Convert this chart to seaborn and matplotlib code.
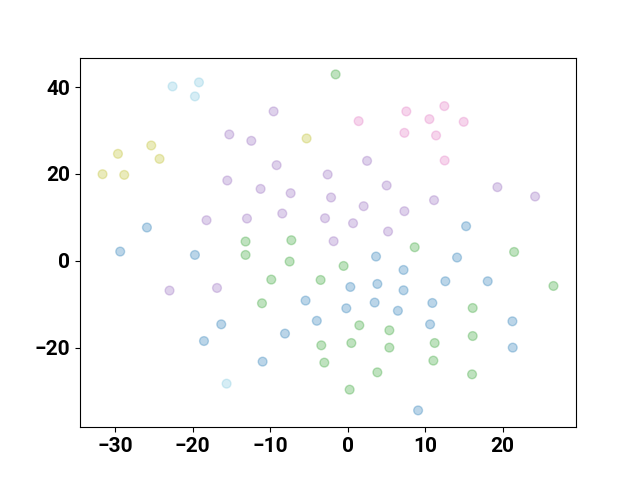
import pandas as pd
import matplotlib
matplotlib.use("Agg")
import matplotlib.pyplot as plt
import seaborn as sns

plt.rcParams['font.family'] = ['Roboto', 'DejaVu Sans']
plt.rcParams['font.weight'] = 'bold'
plt.rcParams['font.size'] = 15

# point coordinates, one group per colour
blue_x = [-29.37, -25.92, -19.72, -16.32, -18.55, -10.98, -8.09, -5.43, -3.98, -0.17, 0.35, 3.49, 3.67,
          3.84, 6.49, 7.22, 7.22, 10.65, 10.94, 12.62, 14.13, 15.30, 18.09, 21.28, 21.32, 9.10]
blue_y = [2.12, 7.66, 1.34, -14.65, -18.50, -23.25, -16.79, -9.18, -13.84, -10.96, -6.04, -9.64, 0.97,
          -5.35, -11.53, -2.12, -6.81, -14.65, -9.73, -4.73, 0.74, 7.96, -4.73, -13.96, -20.02, -34.49]

green_x = [-1.55, -13.18, -13.18, -7.27, -7.49, -0.52, -9.86, -3.49, -11.06, 1.51, 5.39, 8.66, 21.50,
           26.58, 16.15, -3.40, -3.01, 0.48, 5.39, 11.24, 16.15, 3.84, 11.07, 16.07, 0.26]
green_y = [42.95, 4.43, 1.34, 4.73, -0.18, -1.20, -4.34, -4.43, -9.80, -14.88, -16.03, 3.11, 2.03,
           -5.81, -10.89, -19.49, -23.48, -18.96, -20.02, -18.96, -17.35, -25.72, -23.02, -26.18, -29.71]

purple_x = [-15.28, -12.44, -9.56, -9.17, -15.54, -11.24, -7.36, -2.58, -2.14, 2.51, 5.04, 2.07, 19.34,
            24.21, 11.16, 7.33, -18.22, -13.00, -8.44, -2.92, 0.70, 5.22, -1.81, -23.00, -16.87]
purple_y = [29.11, 27.64, 34.42, 22.03, 18.50, 16.56, 15.57, 19.88, 14.58, 23.02, 17.35, 12.57, 16.96,
            14.81, 13.96, 11.42, 9.34, 9.73, 10.89, 9.80, 8.65, 6.74, 4.50, -6.87, -6.27]

pink_x = [1.42, 7.58, 7.33, 12.49, 10.56, 14.99, 11.42, 12.53]
pink_y = [32.18, 34.42, 29.48, 35.64, 32.64, 32.02, 28.88, 23.11]

olive_x = [-31.65, -28.85, -29.66, -25.36, -24.29, -5.30]
olive_y = [19.95, 19.79, 24.64, 26.57, 23.48, 28.19]

cyan_x = [-22.61, -19.20, -19.72, -15.63]
cyan_y = [40.18, 41.11, 37.88, -28.33]

groups = {
    'tab:blue': (blue_x, blue_y),
    'tab:green': (green_x, green_y),
    'tab:purple': (purple_x, purple_y),
    'tab:pink': (pink_x, pink_y),
    'tab:olive': (olive_x, olive_y),
    '#7ac6de': (cyan_x, cyan_y),
}

rows = []
for colour, (xs, ys) in groups.items():
    for x, y in zip(xs, ys):
        rows.append({'x': x, 'y': y, 'group': colour})
df = pd.DataFrame(rows)

fig, ax = plt.subplots(figsize=(6.4, 4.8), dpi=100)
sns.scatterplot(data=df, x='x', y='y', hue='group', palette={c: c for c in groups},
                alpha=0.3, s=40, edgecolor='face', linewidth=1, legend=False, ax=ax)
ax.set_xlabel('')
ax.set_ylabel('')
for lab in ax.get_xticklabels() + ax.get_yticklabels():
    lab.set_fontweight('bold')

fig.savefig('out.png', dpi=100)
